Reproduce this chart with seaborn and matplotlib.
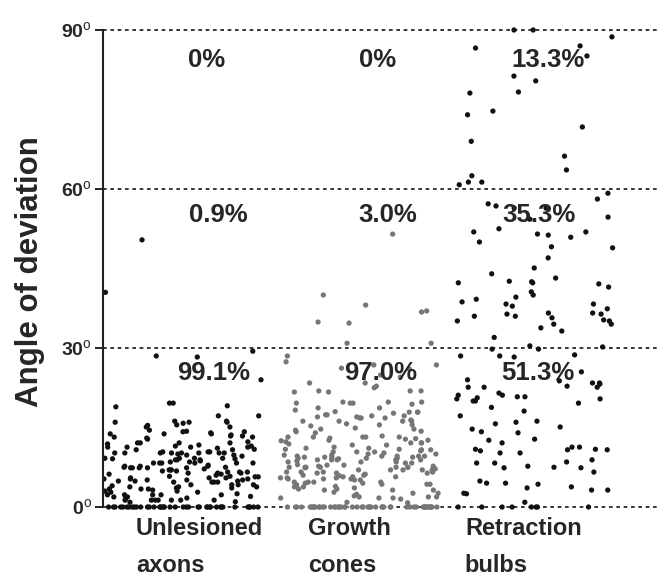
import numpy as np
import pandas as pd
import matplotlib
matplotlib.use('Agg')
import matplotlib.pyplot as plt
import seaborn as sns

sns.set_style('white')
plt.rcParams['font.family'] = ['Liberation Sans', 'DejaVu Sans']
plt.rcParams['mathtext.fontset'] = 'custom'
plt.rcParams['mathtext.rm'] = 'Liberation Sans'
plt.rcParams['mathtext.bf'] = 'Liberation Sans:bold'

# ------------------------------------------------------------
# data: angle of deviation (degrees)
# ------------------------------------------------------------
groups = ['Unlesioned\naxons', 'Growth\ncones', 'Retraction\nbulbs']

axons = [
    18.9, 19.1, 19.6, 17.2, 17.2, 16.0, 15.8, 16.0, 15.1, 14.2, 13.8, 13.6, 13.8, 13.2, 14.5,
    12.3, 12.1, 11.5, 11.5, 11.3, 11.7, 10.9, 12.1, 11.3, 11.3, 10.2, 9.8, 9.2, 10.4, 10.0,
    10.8, 10.2, 10.4, 9.2, 8.3, 8.3, 7.5, 8.3, 9.2, 7.4, 8.9, 8.3, 7.7, 6.8, 6.8, 6.4, 7.0,
    6.6, 7.4, 6.2, 7.0, 7.0, 7.2, 7.4, 5.8, 5.3, 4.9, 6.0, 5.1, 4.7, 5.7, 4.7, 4.0, 3.2, 2.8,
    3.4, 3.8, 4.2, 4.2, 3.8, 2.5, 2.3, 2.3, 3.0, 2.3, 1.3, 1.5, 1.3, 1.3, 1.3, 0.9,
    19.6, 16.2, 16.2, 15.1, 14.3, 15.5, 16.0, 14.2, 14.0, 13.4, 13.2, 13.8, 13.4, 12.8, 12.1,
    12.1, 11.1, 11.3, 10.4, 10.2, 10.2, 10.8, 10.2, 10.2, 10.2, 9.8, 10.2, 9.2, 8.5, 8.9,
    9.1, 8.5, 8.9, 9.1, 8.3, 7.5, 7.7, 7.9, 7.7, 7.4, 8.3, 7.4, 6.6, 6.6, 6.2, 6.4, 5.8,
    5.7, 5.1, 5.5, 5.1, 5.3, 4.9, 4.7, 4.7, 4.9, 5.3, 5.5, 4.2, 4.2, 3.8, 3.4, 3.4, 3.6,
    2.8, 3.0, 2.3, 1.9, 1.9, 2.3, 1.7, 1.3, 1.3, 1.3,
    28.5, 28.3, 29.4, 24.0, 50.4, 40.5,
    1.0, 2.0, 3.6, 5.5, 6.4, 8.7, 9.6, 11.9, 13.0, 15.4,
] + [0.0] * 40

growth = [
    30.9, 30.9, 26.8, 27.4, 26.8, 26.0, 24.9, 24.5, 23.4, 21.7, 21.9, 22.5, 21.7, 19.8, 19.6,
    19.6, 19.6, 19.8, 17.9, 18.7, 18.7, 17.2, 16.2, 16.4, 17.2, 17.4, 16.8, 15.5, 14.7, 14.7,
    15.7, 14.3, 15.5, 14.5, 13.4, 12.6, 13.2, 13.2, 11.7, 12.1, 11.9, 10.0, 9.8, 10.9, 10.9,
    11.1, 10.8, 10.4, 10.4, 10.0, 9.2, 8.5, 8.9, 9.1, 8.9, 9.6, 8.9, 8.9, 9.6, 9.4, 7.5, 7.7,
    7.7, 7.9, 7.5, 7.9, 7.0, 7.5, 7.0, 6.6, 7.0, 6.0, 6.6, 6.4, 6.4, 5.7, 4.5, 3.8, 4.2, 3.8,
    4.5, 5.3, 5.5, 4.3, 4.7, 5.1, 3.4, 4.7, 1.5, 1.9, 2.1, 1.7, 2.6,
    28.5, 26.2, 23.4, 21.9, 21.9, 22.8, 19.8, 19.4, 17.9, 17.9, 17.7, 18.3, 17.4, 17.0, 16.8,
    16.2, 17.0, 16.8, 16.2, 16.2, 15.3, 14.9, 14.2, 13.2, 12.6, 13.0, 12.1, 13.2, 12.3, 12.8,
    13.2, 12.1, 12.5, 11.7, 11.1, 11.3, 10.8, 10.4, 10.2, 9.2, 9.6, 9.4, 9.6, 9.4, 9.2, 9.4,
    9.6, 9.8, 8.5, 8.3, 8.5, 8.7, 8.3, 8.9, 7.5, 7.0, 7.4, 7.5, 7.5, 7.0, 6.6, 7.5, 6.4, 6.0,
    6.2, 5.7, 5.5, 5.7, 6.6, 5.5, 5.1, 5.3, 5.3, 4.3, 4.7, 4.7, 4.3, 3.2, 3.6, 3.2, 2.8, 3.2,
    2.6, 3.4, 1.9, 1.7, 1.9, 1.7, 0.9,
    51.5, 40.0, 37.0, 38.1, 34.9, 34.7, 36.8,
    0.8, 2.4, 3.9, 5.9, 7.2, 8.0, 10.6, 12.9, 14.0, 18.0,
] + [0.0] * 50

bulbs = [
    90.0, 90.0, 88.7, 87.0, 85.1, 86.6, 80.4, 81.3, 78.1, 78.3, 74.0, 74.7, 71.7, 66.2, 63.6,
    61.3, 61.3, 60.8, 69.0, 62.5,
    59.2, 58.1, 57.2, 56.8, 54.7, 56.4, 56.4, 54.3, 52.5, 51.3, 50.9, 51.5, 51.9, 51.9, 49.1,
    48.9, 50.0, 45.1, 43.2, 42.6, 41.5, 42.3, 42.5, 42.1, 42.3, 38.3, 39.2, 39.6, 40.0, 40.6,
    38.7, 38.3, 37.9, 37.4, 36.4, 36.6, 35.3, 36.6, 36.0, 36.0, 35.7, 36.4, 35.1, 34.5, 35.1,
    33.8, 34.5, 33.2, 30.2, 30.4, 47.0, 44.0, 32.0,
    29.8, 29.8, 28.5, 28.3, 28.7, 28.5, 23.4, 22.8, 23.8, 22.6, 24.0, 22.6, 23.2, 23.4, 22.6,
    19.6, 21.1, 20.6, 20.0, 21.1, 20.8, 20.4, 20.8, 20.0, 21.5, 20.4, 17.2, 18.1, 16.2, 15.7,
    16.0, 14.7, 15.1, 14.0, 14.2, 12.8, 12.6, 12.1, 10.9, 11.3, 10.2, 10.8, 10.2, 10.6, 10.8,
    11.3, 10.9, 8.3, 7.4, 8.9, 7.4, 7.7, 7.5, 8.3, 6.6, 8.5, 3.2, 3.6, 4.3, 4.5, 4.5, 3.8,
    3.2, 4.9, 2.6, 2.5, 0.9, 25.5, 18.8,
] + [0.0] * 8

pct_labels = [['0%', '0.9%', '99.1%'],
              ['0%', '3.0%', '97.0%'],
              ['13.3%', '35.3%', '51.3%']]

yticks = [0, 30, 60, 90]

df = pd.concat([
    pd.DataFrame({'group': groups[0], 'angle': axons}),
    pd.DataFrame({'group': groups[1], 'angle': growth}),
    pd.DataFrame({'group': groups[2], 'angle': bulbs}),
], ignore_index=True)

# ------------------------------------------------------------
# plot
# ------------------------------------------------------------
fig = plt.figure(figsize=(6.6, 5.77), dpi=100)
ax = fig.add_axes([0.156, 0.1029, 0.844, 0.8635])

for v in yticks:
    ax.axhline(v, color='black', lw=1.1, dashes=(2.4, 2.4), zorder=0.5)

np.random.seed(7)
sns.stripplot(data=df, x='group', y='angle', hue='group', order=groups,
              palette={groups[0]: '#111111', groups[1]: '#767676', groups[2]: '#111111'},
              jitter=0.45, size=3.8, linewidth=0, legend=False, ax=ax, zorder=2)

ax.set_xlim(-0.4545, 2.71)
ax.set_ylim(-2, 92)

# percentages per band
pct_x = [[0.136, 0.199, 0.176], [1.108, 1.165, 1.125], [2.074, 2.023, 2.017]]
pct_y = [84.3, 55.1, 25.3]
for i in range(3):
    for j in range(3):
        ax.text(pct_x[i][j], pct_y[j], pct_labels[i][j], ha='center', va='center',
                fontsize=18.5, fontweight='bold', zorder=3)

# category labels (left aligned, two lines)
cat_x = [-0.267, 0.710, 1.602]
for x, name in zip(cat_x, groups):
    line1, line2 = name.split('\n')
    ax.text(x, -0.0349, line1, transform=ax.get_xaxis_transform(), ha='left',
            va='baseline', fontsize=17, fontweight='bold')
    ax.text(x, -0.1092, line2, transform=ax.get_xaxis_transform(), ha='left',
            va='baseline', fontsize=17, fontweight='bold')

ax.set_xticks([])
ax.set_xlabel('')
ax.set_yticks(yticks, [rf'$\mathbf{{{v}}}^{{\mathrm{{o}}}}$' for v in yticks])
ax.tick_params(axis='y', direction='out', length=6, width=1.4, labelsize=14,
               pad=2, left=True, color='#222222')
ax.set_ylabel('Angle of deviation', fontsize=22.5, fontweight='bold', va='center')
ax.yaxis.set_label_coords(-0.131, 0.493)

for s in ['top', 'right', 'bottom']:
    ax.spines[s].set_visible(False)
ax.spines['left'].set_bounds(0, 90)
ax.spines['left'].set_linewidth(1.5)
ax.spines['left'].set_color('#222222')

plt.savefig('out.png', dpi=100)
plt.close()
